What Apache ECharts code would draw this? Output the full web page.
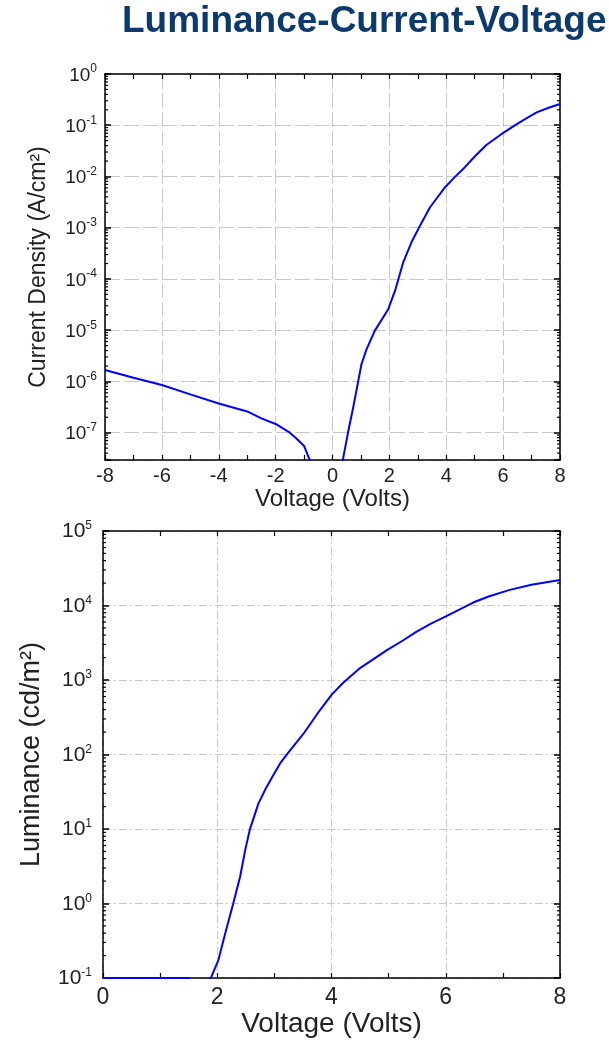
<!DOCTYPE html>
<html>
<head>
<meta charset="utf-8">
<title>Luminance-Current-Voltage</title>
<script src="https://cdn.jsdelivr.net/npm/echarts@6/dist/echarts.min.js"></script>
<style>
  html, body { margin: 0; padding: 0; background: #fff; }
  #main { width: 609px; height: 1043px; }
</style>
</head>
<body>
<div id="main"></div>
<script>
// J-V, reverse bias branch (V, A/cm2)
var jvRevV = [-8, -7, -6, -5, -4, -3, -2.5, -2, -1.5, -1.25, -1, -0.8, -0.7];
var jvRevJ = [1.67e-6, 1.18e-6, 8.5e-7, 5.6e-7, 3.7e-7, 2.6e-7, 1.9e-7, 1.48e-7, 1.0e-7, 7.5e-8, 5.5e-8, 2.9e-8, 1.5e-8];
// J-V, forward bias branch
var jvFwdV = [0.3, 0.38, 0.56, 0.73, 0.91, 1.02, 1.2, 1.49, 1.96, 2.2, 2.49, 2.78, 2.93, 3.08, 3.43, 3.7, 3.96, 4.28, 4.6, 5.0, 5.42, 5.95, 6.48, 6.8, 7.18, 7.6, 8.0];
var jvFwdJ = [1.26e-8, 3.3e-8, 1.1e-7, 3.16e-7, 1.05e-6, 2.19e-6, 4.27e-6, 9.8e-6, 2.57e-5, 5.9e-5, 2.14e-4, 5.25e-4, 7.6e-4, 1.1e-3, 2.51e-3, 3.98e-3, 6.17e-3, 9.5e-3, 1.41e-2, 2.45e-2, 4.17e-2, 6.76e-2, 0.105, 0.135, 0.178, 0.219, 0.26];
// L-V (V, cd/m2)
var lvV = [0, 0.5, 1.0, 1.5, 1.6, 1.8, 1.87, 1.9, 2.02, 2.14, 2.28, 2.4, 2.49, 2.57, 2.72, 2.85, 2.98, 3.1, 3.24, 3.51, 3.75, 4.0, 4.2, 4.5, 4.97, 5.25, 5.49, 5.75, 6.02, 6.48, 6.75, 7.12, 7.5, 8.0];
var lvL = [0.1, 0.1, 0.1, 0.1, 0.07, 0.07, 0.095, 0.105, 0.174, 0.398, 1.0, 2.29, 5.25, 9.8, 21.9, 35, 52.5, 76, 105, 190, 350, 631, 912, 1445, 2512, 3390, 4467, 5750, 7244, 10965, 13200, 16218, 19000, 22000];

var jMin = 2.93e-8, jMax = 1;
var lMin = 0.1, lMax = 1e5;

function pairs(xs, ys) {
  return xs.map(function (x, i) { return [x, ys[i]]; });
}

// 10^n labels, only on whole decades
function decadeLabel(v) {
  var e = Math.log10(v), n = Math.round(e);
  if (Math.abs(e - n) > 1e-6) return '';
  return '{b|10}{s|' + n + '}';
}

var FONT = 'Liberation Sans, Arial, sans-serif';
var INK = '#222';

function xAx(grid, min, max, pos, main, opt) {
  return {
    gridIndex: grid, type: 'value', min: min, max: max, interval: 2, position: pos,
    axisLine: { onZero: false, lineStyle: { color: '#000', width: 1.5 } },
    axisTick: { inside: true, length: 5, lineStyle: { color: '#000', width: 1.2 } },
    minorTick: { show: true, splitNumber: 2, length: 5, lineStyle: { color: '#000', width: 1.2 } },
    axisLabel: { show: main, fontSize: opt.fs, color: INK, margin: opt.margin },
    splitLine: { show: main, lineStyle: { color: '#c8c8c8', width: 1, type: opt.dash } },
    name: main ? 'Voltage (Volts)' : '', nameLocation: 'middle', nameGap: opt.nameGap,
    nameTextStyle: { fontSize: opt.nfs, color: INK }
  };
}

function yAx(grid, min, max, pos, main, opt) {
  return {
    gridIndex: grid, type: 'log', min: min, max: max, position: pos,
    axisLine: { onZero: false, lineStyle: { color: '#000', width: 1.5 } },
    axisTick: { inside: true, length: 6, lineStyle: { color: '#000', width: 1.5 } },
    minorTick: { show: false },
    axisLabel: {
      show: main, formatter: decadeLabel, margin: opt.margin,
      rich: {
        b: { fontSize: opt.fs, color: INK, verticalAlign: 'bottom' },
        s: { fontSize: 12, color: INK, verticalAlign: 'bottom', padding: [0, 0, 10, 0] }
      }
    },
    splitLine: { show: main, lineStyle: { color: '#c8c8c8', width: 1, type: opt.dash } },
    name: main ? opt.name : '', nameLocation: 'middle', nameGap: opt.nameGap,
    nameTextStyle: { fontSize: opt.nfs, color: INK }
  };
}

var topX = { fs: 20, margin: 6, dash: [15, 4], nameGap: 25, nfs: 24 };
var topY = { fs: 19, margin: 8, dash: [15, 4], nameGap: 55, nfs: 23, name: 'Current Density (A/cm²)' };
var botX = { fs: 23, margin: 8, dash: [8, 3, 2, 3], nameGap: 29, nfs: 28 };
var botY = { fs: 21, margin: 11, dash: [8, 3, 2, 3], nameGap: 58, nfs: 27, name: 'Luminance (cd/m²)' };

var grids = [
  { left: 105, top: 74, width: 455, height: 386 },
  { left: 103, top: 531, width: 457, height: 447 }
];

var chart = echarts.init(document.getElementById('main'));
chart.setOption({
  animation: false,
  textStyle: { fontFamily: FONT },
  title: {
    text: 'Luminance-Current-Voltage', left: 117, top: -2,
    textStyle: { fontSize: 37, fontWeight: 'bold', color: '#0d3a6d', fontFamily: FONT }
  },
  grid: grids,
  xAxis: [
    xAx(0, -8, 8, 'bottom', true, topX),
    xAx(0, -8, 8, 'top', false, topX),
    xAx(1, 0, 8, 'bottom', true, botX),
    xAx(1, 0, 8, 'top', false, botX)
  ],
  yAxis: [
    yAx(0, jMin, jMax, 'left', true, topY),
    yAx(0, jMin, jMax, 'right', false, topY),
    yAx(1, lMin, lMax, 'left', true, botY),
    yAx(1, lMin, lMax, 'right', false, botY)
  ],
  series: [
    {
      type: 'line', xAxisIndex: 0, yAxisIndex: 0, data: pairs(jvRevV, jvRevJ),
      showSymbol: false, clip: true, lineStyle: { color: '#0000ff', width: 2 }
    },
    {
      type: 'line', xAxisIndex: 0, yAxisIndex: 0, data: pairs(jvFwdV, jvFwdJ),
      showSymbol: false, clip: true, lineStyle: { color: '#0000ff', width: 2 }
    },
    {
      type: 'line', xAxisIndex: 2, yAxisIndex: 2, data: pairs(lvV, lvL),
      showSymbol: false, clip: true, lineStyle: { color: '#0000ff', width: 2 }
    }
  ]
});

// log minor ticks (2..9 per decade) on the left and right frame edges
var ticks = [];
function addLogMinor(yIdx, g, min, max) {
  for (var d = Math.floor(Math.log10(min)); d < Math.log10(max); d++) {
    for (var k = 2; k <= 9; k++) {
      var v = k * Math.pow(10, d);
      if (v <= min || v >= max) continue;
      var y = chart.convertToPixel({ yAxisIndex: yIdx }, v);
      [[g.left, g.left + 3], [g.left + g.width, g.left + g.width - 3]].forEach(function (xs) {
        ticks.push({
          type: 'line', silent: true,
          shape: { x1: xs[0], y1: y, x2: xs[1], y2: y },
          style: { stroke: '#000', lineWidth: 1.2 }
        });
      });
    }
  }
}
addLogMinor(0, grids[0], jMin, jMax);
addLogMinor(2, grids[1], lMin, lMax);
chart.setOption({ graphic: ticks });
</script>
</body>
</html>
